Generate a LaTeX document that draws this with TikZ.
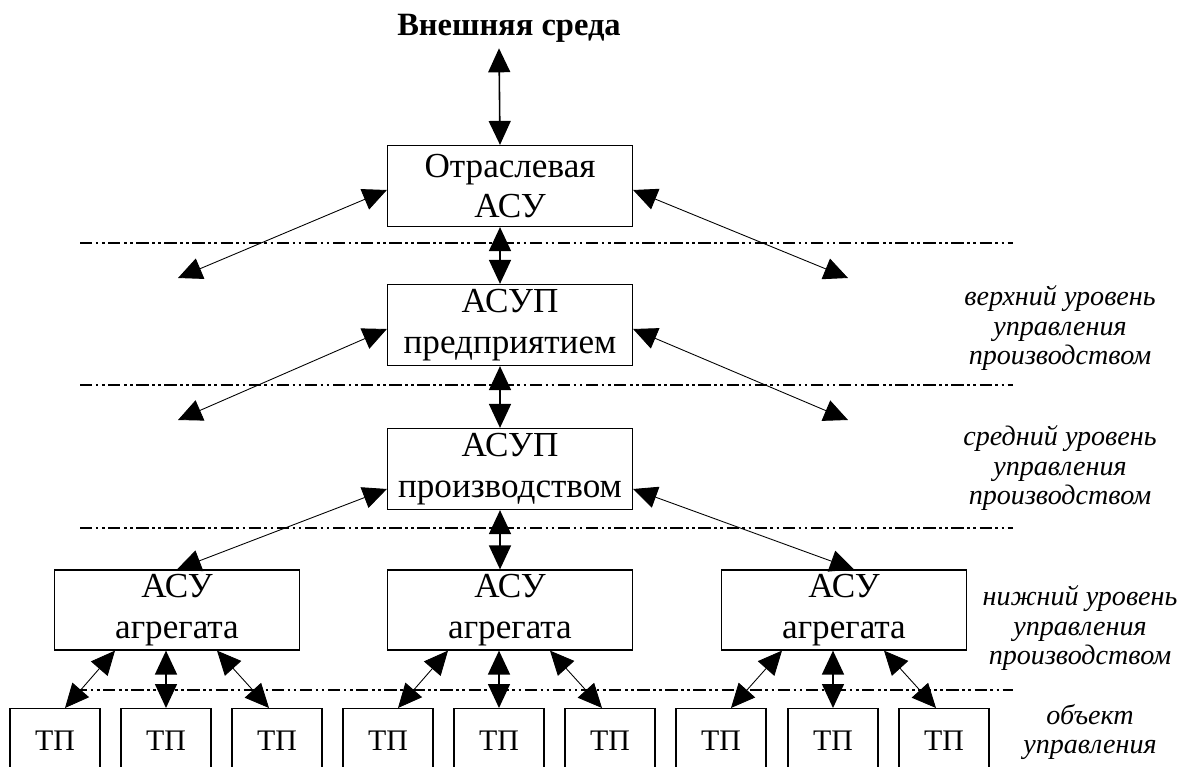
\documentclass[tikz,border=0pt]{standalone}
\usepackage{fontspec}
\setmainfont{Liberation Serif}
\usetikzlibrary{arrows.meta, positioning, calc}

\begin{document}
\begin{tikzpicture}[x=0.02cm, y=-0.02cm,
    >={Triangle[width=0.44cm,length=0.48cm]},
    font=\fontsize{20}{23}\selectfont]
\tikzset{
  box/.style={draw, line width=0.7pt, minimum width=4.9cm, minimum height=1.62cm,
              align=center, inner sep=0pt},
  tpbox/.style={draw, line width=0.7pt, minimum width=1.8cm, minimum height=1.28cm,
                anchor=north, inner sep=0pt, font=\fontsize{17}{20}\selectfont},
  link/.style={<->, line width=0.9pt},
  thin link/.style={<->, line width=0.5pt},
  sep/.style={line width=0.6pt,
              dash pattern=on 7pt off 2pt on 1.5pt off 2pt on 1.5pt off 2pt},
  lvl/.style={font=\itshape\fontsize{16}{17}\selectfont, align=center}
}
    \useasboundingbox (0,0) rectangle (1187,767);
    \clip (0,0) rectangle (1187,767);

    % levels
    \draw[sep] (80,243) -- (1013,243);
    \draw[sep] (80,385) -- (1013,385);
    \draw[sep] (80,528) -- (1013,528);
    \draw[sep] (75,690) -- (1013,690);

    \node[font=\bfseries\fontsize{18.5}{22}\selectfont] (env) at (509,28) {Внешняя среда};
    \node[box] (otr)  at (510,186) {Отраслевая\\АСУ};
    \node[box] (pred) at (510,325) {АСУП\\предприятием};
    \node[box] (prz)  at (510,469) {АСУП\\производством};
    \node[box, minimum height=1.6cm] (ag1) at (177,610) {АСУ\\агрегата};
    \node[box, minimum height=1.6cm] (ag2) at (510,610) {АСУ\\агрегата};
    \node[box, minimum height=1.6cm] (ag3) at (844,610) {АСУ\\агрегата};

    \foreach \i/\x in {1/55,2/166,3/277,4/388,5/499,6/610,7/721,8/833,9/944}
        \node[tpbox] (tp\i) at (\x,708) {ТП};

    \coordinate (otrL)  at (178,278);
    \coordinate (otrR)  at (848,278);
    \coordinate (predL) at (178,420);
    \coordinate (predR) at (848,420);

    \draw[link] ([xshift=-0.2cm]env.south) -- ([xshift=-0.2cm]otr.north);
    \draw[link] ([xshift=-0.2cm]otr.south) -- ([xshift=-0.2cm]pred.north);
    \draw[link] ([xshift=-0.2cm]pred.south) -- ([xshift=-0.2cm]prz.north);
    \draw[link] ([xshift=-0.2cm]prz.south) -- ([xshift=-0.2cm]ag2.north);

    \draw[thin link] ([yshift=-0.08cm]otr.west) -- (otrL);
    \draw[thin link] ([yshift=-0.08cm]otr.east) -- (otrR);
    \draw[thin link] ([yshift=-0.08cm]pred.west) -- (predL);
    \draw[thin link] ([yshift=-0.08cm]pred.east) -- (predR);
    \draw[thin link] ([yshift=-0.4cm]prz.west) -- (ag1.north);
    \draw[thin link] ([yshift=-0.4cm]prz.east) -- ([xshift=0.2cm]ag3.north);

    % aggregates to processes
    \foreach \k/\a/\b/\c in {1/1/2/3, 2/4/5/6, 3/7/8/9} {
        \draw[thin link] ([xshift=-1.24cm]ag\k.south) -- ([xshift=0.2cm]tp\a.north);
        \draw[link] (tp\b.north |- ag\k.south) -- (tp\b.north);
        \draw[thin link] ([xshift=0.8cm]ag\k.south) -- ([xshift=-0.16cm]tp\c.north);
    }

    \node[lvl] (lvlTop) at (1060,328) {верхний уровень\\управления\\производством};
    \node[lvl] (lvlMid) at (1060,468) {средний уровень\\управления\\производством};
    \node[lvl] (lvlLow) at (1080,628) {нижний уровень\\управления\\производством};
    \node[lvl] (lvlObj) at (1090,732) {объект\\управления};
\end{tikzpicture}
\end{document}
